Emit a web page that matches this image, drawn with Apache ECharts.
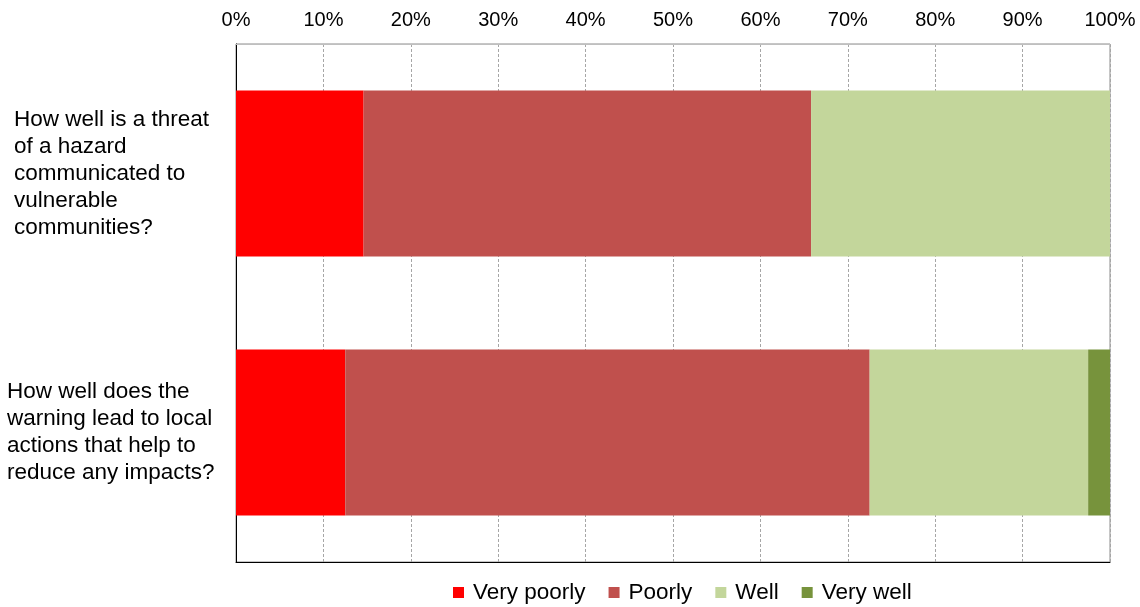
<!DOCTYPE html>
<html>
<head>
<meta charset="utf-8">
<script src="https://cdn.jsdelivr.net/npm/echarts@6/dist/echarts.min.js"></script>
<style>
  html, body { margin: 0; padding: 0; background: #fff; }
  #chart { width: 1140px; height: 607px; }
</style>
</head>
<body>
<div id="chart"></div>
<script>
// Survey questions (top to bottom)
const questions = [
  'How well is a threat\nof a hazard\ncommunicated to\nvulnerable\ncommunities?',
  'How well does the\nwarning lead to local\nactions that help to\nreduce any impacts?'
];
// Share of responses per rating, in percent
const veryPoorly = [14.6, 12.5];
const poorly = [51.2, 60.0];
const well = [34.2, 25.0];
const veryWell = [0, 2.5];
const ratingNames = ['Very poorly', 'Poorly', 'Well', 'Very well'];
const ratingColors = ['#FF0000', '#C0504D', '#C3D69B', '#77933C'];
const percentTicks = [0, 10, 20, 30, 40, 50, 60, 70, 80, 90, 100];

const font = 'Arial, "Liberation Sans", sans-serif';
const chart = echarts.init(document.getElementById('chart'));

const seriesData = [veryPoorly, poorly, well, veryWell];

// First question's lines sit a little further right than the second's
function questionLabel(value, index) {
  const style = index === 0 ? 'a' : 'b';
  return value.split('\n').map(l => '{' + style + '|' + l + '}').join('\n');
}

chart.setOption({
  animation: false,
  grid: {
    left: 236, right: 30, top: 44, bottom: 45,
    show: true, borderColor: '#8c8c8c', borderWidth: 1
  },
  legend: {
    top: 576, left: 448,
    itemWidth: 11, itemHeight: 11, itemGap: 23,
    icon: 'rect',
    textStyle: { fontFamily: font, fontSize: 22.5, color: '#000', padding: [0, 0, 0, 4] },
    data: ratingNames
  },
  xAxis: [{
    type: 'value', position: 'top',
    min: percentTicks[0], max: percentTicks[percentTicks.length - 1], interval: 10,
    axisLine: { show: true, lineStyle: { color: '#bfbfbf' } },
    axisTick: { show: false },
    splitLine: { show: true, lineStyle: { color: '#a6a6a6', type: [3, 2], width: 1 } },
    axisLabel: { formatter: '{value}%', fontFamily: font, fontSize: 20, color: '#000', margin: 14 }
  }, {
    type: 'value', position: 'bottom', min: 0, max: 100,
    axisLine: { show: true, lineStyle: { color: '#000' } },
    axisTick: { show: false }, axisLabel: { show: false }, splitLine: { show: false }
  }],
  yAxis: {
    type: 'category', inverse: true, data: questions,
    axisLine: { show: true, lineStyle: { color: '#000' } },
    axisTick: { show: false },
    axisLabel: {
      align: 'left', margin: 229, lineHeight: 27,
      fontFamily: font, fontSize: 22.5, color: '#000',
      formatter: questionLabel,
      rich: {
        a: { fontFamily: font, fontSize: 22.5, color: '#000', lineHeight: 27, padding: [0, 0, 0, 7] },
        b: { fontFamily: font, fontSize: 22.5, color: '#000', lineHeight: 27 }
      }
    }
  },
  series: ratingNames.map((name, i) => ({
    name: name, type: 'bar', stack: 'total',
    xAxisIndex: 0,
    barWidth: '64%',
    itemStyle: { color: ratingColors[i] },
    data: seriesData[i]
  }))
});
</script>
</body>
</html>
